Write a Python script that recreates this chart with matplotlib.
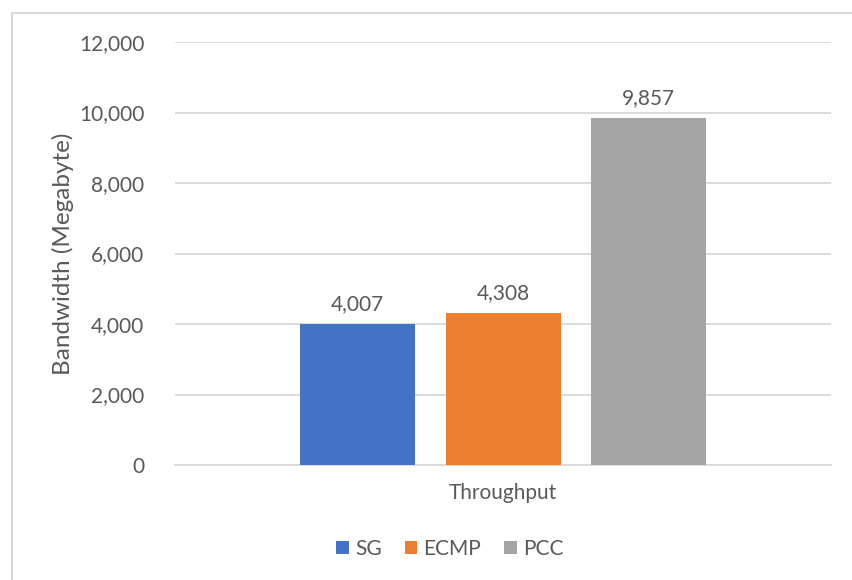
import matplotlib.pyplot as plt
from matplotlib.patches import Rectangle

categories = ["Throughput"]
series = ["SG", "ECMP", "PCC"]
values = [4007, 4308, 9857]
colors = ["#4472C4", "#ED7D31", "#A5A5A5"]
yticks = [0, 2000, 4000, 6000, 8000, 10000, 12000]

plt.rcParams['font.family'] = ['Lato', 'DejaVu Sans']
text_color = "#595959"
fs = 15

W, H = 852, 580
fig = plt.figure(figsize=(W / 100, H / 100), dpi=100)
ax = fig.add_axes([175 / W, 1 - 465 / H, (831 - 175) / W, (465 - 42) / H])

# chart frame, open on the right and bottom
fig.add_artist(Rectangle((11.5 / W, -0.1), 1.2, 1 - 12.5 / H + 0.1,
                         transform=fig.transFigure, fill=False,
                         edgecolor="#D9D9D9", linewidth=1.5))

bar_w = 115 / 656
offsets = [-145.5 / 656, 0, 145.5 / 656]
for name, v, c, off in zip(series, values, colors, offsets):
    ax.bar(off, v, width=bar_w, color=c, label=name, zorder=3)
    ax.text(off, v + 280, f"{v:,}", ha="center", va="bottom",
            fontsize=fs, color=text_color)

ax.set_xlim(-0.5, 0.5)
ax.set_ylim(0, 12000)
ax.set_yticks(yticks)
ax.set_yticklabels([f"{t:,}" for t in yticks], fontsize=fs, color=text_color)
ax.set_xticks([0])
ax.set_xticklabels(categories, fontsize=fs, color=text_color)
ax.tick_params(axis="both", length=0)
ax.tick_params(axis="y", pad=22)
ax.tick_params(axis="x", pad=13)
ax.yaxis.grid(True, color="#D9D9D9", linewidth=1.3, zorder=0)
for s in ["top", "right", "left"]:
    ax.spines[s].set_visible(False)
ax.spines["bottom"].set_color("#D9D9D9")
ax.spines["bottom"].set_linewidth(1.3)
ax.set_ylabel("Bandwidth (Megabyte)", fontsize=17.5, color=text_color)
ax.yaxis.set_label_coords((63 - 175) / 656, 1 - (254 - 42) / 423)
ax.yaxis.label.set_va("center")

leg = fig.legend(loc="center", bbox_to_anchor=(450 / W, 1 - 549 / H), ncol=3,
                 frameon=False, fontsize=fs, handlelength=0.6, handleheight=0.6,
                 handletextpad=0.3, columnspacing=1.1)
for t in leg.get_texts():
    t.set_color(text_color)

fig.savefig("out.png", dpi=100, facecolor="white")
